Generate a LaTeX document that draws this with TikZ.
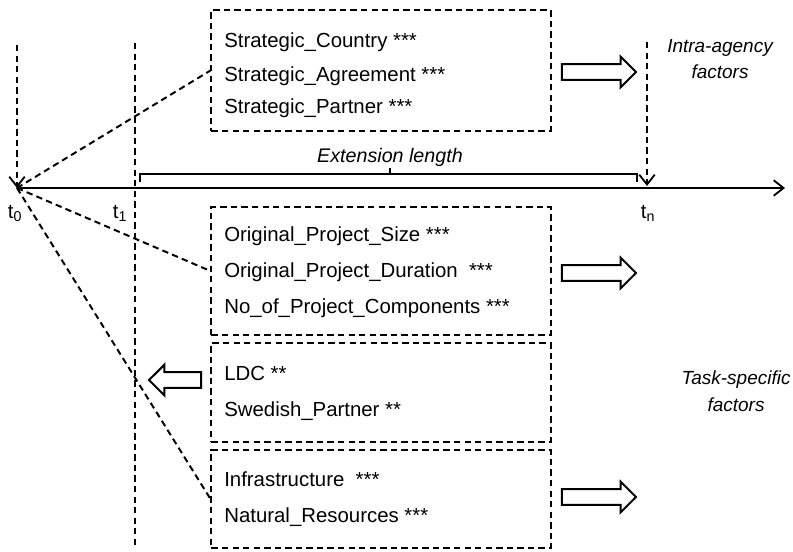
\documentclass[tikz,border=0pt]{standalone}
\usepackage{fontspec}
\setmainfont{Liberation Sans}
\usetikzlibrary{arrows.meta,shapes.arrows}

\tikzset{
  factorbox/.style={draw, dash pattern=on 4.5pt off 3pt, line width=1.4pt, inner sep=0pt, minimum width=8.475cm},
  factor/.style={anchor=west, inner sep=0pt, font=\fontsize{14.5}{17}\selectfont},
  link/.style={dash pattern=on 4.5pt off 3pt, line width=1.4pt},
  bigarrow/.style={draw, single arrow, line width=1.4pt, minimum height=1.85cm,
    single arrow head extend=0.1875cm, single arrow head indent=0pt, inner xsep=0pt, inner ysep=0.17cm},
  note/.style={font=\fontsize{13.5}{19}\selectfont\itshape, align=center},
  tick/.style={font=\fontsize{14.5}{17}\selectfont},
  barb/.style={-{Straight Barb[length=7pt,width=11pt,line width=1.3pt]}}
}

\begin{document}
\begin{tikzpicture}[x=0.025cm, y=-0.025cm]
  \useasboundingbox (0,0) rectangle (793,551);

  % time axis
  \coordinate (t0) at (17,188);
  \coordinate (tend) at (785,188);
  \coordinate (tn) at (647,186);
  \draw[line width=1.6pt, barb] (t0) -- (tend);
  \node[tick] (l0) at (15,213) {t\textsubscript{0}};
  \node[tick] (l1) at (120,213) {t\textsubscript{1}};
  \node[tick] (ln) at (648,213) {t\textsubscript{n}};

  \coordinate (v0) at (17,45);
  \coordinate (vn) at (647,42);
  \coordinate (v1top) at (135,43);
  \coordinate (v1bot) at (135,549);
  \draw[link, barb] (v0) -- (t0);
  \draw[link, barb] (vn) -- (tn);
  \draw[link] (v1top) -- (v1bot);

  % extension length
  \draw[line width=1.4pt] (140,182) -- (140,174) -- (637,174) -- (637,182);
  \draw[line width=1.4pt] (390,174) -- (390,168);
  \node[note, font=\fontsize{14}{17}\selectfont\itshape] (ext) at (390,157) {Extension length};

  % factor boxes
  \node[factorbox, minimum height=3.025cm] (box1) at (381,70.5) {};
  \node[factorbox, minimum height=3.2cm] (box2) at (381,271) {};
  \node[factorbox, minimum height=2.475cm] (box3) at (381,392.5) {};
  \node[factorbox, minimum height=2.45cm] (box4) at (381,499) {};

  \node[factor] (country) at (224,42) {Strategic\_Country ***};
  \node[factor] (agree) at (224,76) {Strategic\_Agreement ***};
  \node[factor] (partner) at (224,108) {Strategic\_Partner ***};

  \node[factor] (size) at (224,236) {Original\_Project\_Size ***};
  \node[factor] (dur) at (224,272) {Original\_Project\_Duration \ ***};
  \node[factor] (comp) at (224,308) {No\_of\_Project\_Components ***};

  \node[factor] (ldc) at (224,373) {LDC **};
  \node[factor] (swe) at (224,411) {Swedish\_Partner **};

  \node[factor] (infra) at (224,479) {Infrastructure \ ***};
  \node[factor] (nat) at (224,517) {Natural\_Resources ***};

  % links from t0
  \draw[link] (t0) -- (box1.west);
  \draw[link] (t0) -- (box2.west);
  \draw[link] (t0) -- (box4.west);

  % effect arrows
  \node[bigarrow] (a1) at (595,72) {};
  \node[bigarrow] (a2) at (595,273) {};
  \node[bigarrow, shape border rotate=180, minimum height=1.3cm] (a3) at (179,380) {};
  \node[bigarrow] (a4) at (595,497) {};

  \node[note] (intra) at (720,59) {Intra-agency\\factors};
  \node[note] (task) at (736,391) {Task-specific\\factors};
\end{tikzpicture}
\end{document}
